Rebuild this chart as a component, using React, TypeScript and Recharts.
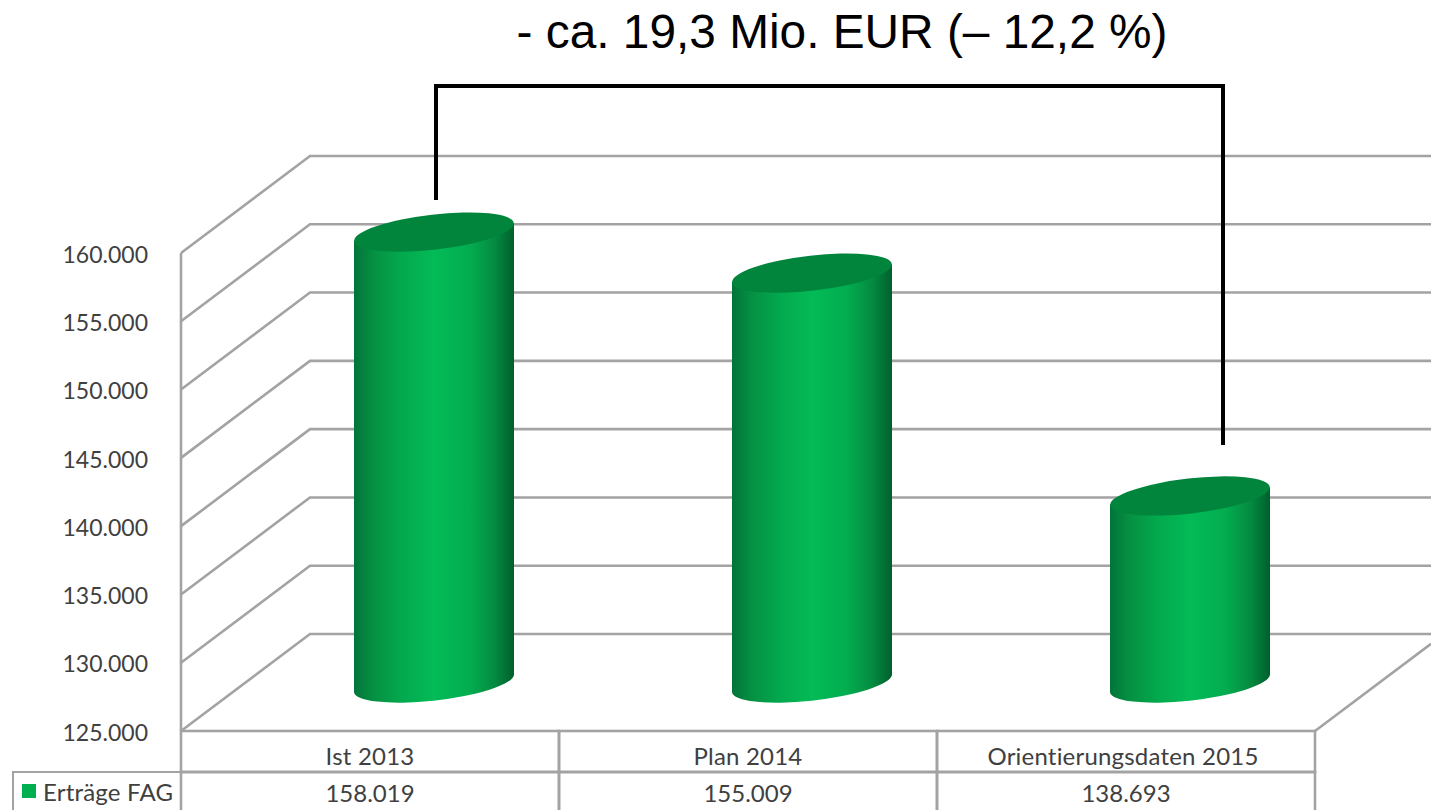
import React from "react";
import { ComposedChart, Bar, XAxis, YAxis, CartesianGrid, Legend, Customized } from "recharts";

const categories = ["Ist 2013", "Plan 2014", "Orientierungsdaten 2015"];
const ertraege = [158019, 155009, 138693];
const yTicks = [125000, 130000, 135000, 140000, 145000, 150000, 155000, 160000];
const seriesName = "Erträge FAG";
const title = "- ca. 19,3 Mio. EUR (– 12,2 %)";

const rows = categories.map((category, i) => ({ category, value: ertraege[i] }));

const W = 1431;
const H = 810;
const GRID = "#a3a3a3";
const TEXT = "#404040";
const FONT = "Lato, Carlito, sans-serif";
const DX = 129; // depth of the 3D wall
const DY = 97;
const BAR_DX = 64; // cylinders stand mid-depth on the floor
const BAR_DY = 48;
const RX = 80.3;
const RY = 17.5;
const ROT = -6.5;
const TILT = 8.6;

const fmt = (v: number) => {
  const s = String(v);
  return s.slice(0, -3) + "." + s.slice(-3);
};

const WallLine = (props: any) => {
  const { x1, y1, x2, index } = props;
  const bx = x1 + DX;
  const by = y1 - DY;
  return (
    <g key={index}>
      <polyline points={`${x1},${y1} ${bx},${by} ${W},${by}`} fill="none" stroke={GRID} strokeWidth={2.6} />
      {y1 > 700 ? (
        <line x1={x2} y1={y1} x2={W} y2={y1 - ((W - x2) * DY) / DX} stroke={GRID} strokeWidth={2.6} />
      ) : null}
    </g>
  );
};

const Cylinder = (props: any) => {
  const { x, y, width, height, index } = props;
  const left = x + BAR_DX;
  const right = left + width;
  const cx = left + width / 2;
  const ct = y - BAR_DY;
  const cb = y + height - BAR_DY;
  const id = `cyl-${index}`;
  return (
    <g>
      <defs>
        <linearGradient id={id} x1="0" y1="0" x2="1" y2="0">
          <stop offset="0" stopColor="#02743a" />
          <stop offset="0.12" stopColor="#059042" />
          <stop offset="0.3" stopColor="#03a94e" />
          <stop offset="0.5" stopColor="#03bb57" />
          <stop offset="0.72" stopColor="#03ad50" />
          <stop offset="0.88" stopColor="#048a40" />
          <stop offset="1" stopColor="#005f2c" />
        </linearGradient>
      </defs>
      <path
        d={`M${left},${ct + TILT} L${left},${cb + TILT} A${RX},${RY} ${ROT} 0 0 ${right},${cb - TILT} L${right},${ct - TILT} Z`}
        fill={`url(#${id})`}
      />
      <ellipse
        cx={cx}
        cy={ct}
        rx={RX}
        ry={RY}
        transform={`rotate(${ROT} ${cx} ${ct})`}
        fill="#01853d"
      />
    </g>
  );
};

const TableTick = (props: any) => {
  const { x, payload, index } = props;
  const half = 189;
  const top = 731;
  const mid = 772;
  return (
    <g>
      <rect x={x - half} y={top} width={half * 2} height={mid - top} fill="none" stroke={GRID} strokeWidth={2.6} />
      <rect x={x - half} y={mid} width={half * 2} height={H - mid + 4} fill="none" stroke={GRID} strokeWidth={2.6} />
      <text x={x - (index === 2 ? 3 : 0)} y={765} textAnchor="middle" fontFamily={FONT} fontSize={24} letterSpacing={0.2} fill={TEXT}>
        {payload.value}
      </text>
      <text x={x} y={802} textAnchor="middle" fontFamily={FONT} fontSize={24} fill={TEXT}>
        {fmt(ertraege[index])}
      </text>
    </g>
  );
};

const LegendCell = () => (
  <div
    style={{
      boxSizing: "border-box",
      width: 169,
      height: 42,
      border: `2.6px solid ${GRID}`,
      borderRight: "none",
      borderBottom: "none",
      display: "flex",
      alignItems: "center",
      paddingLeft: 8,
      paddingBottom: 4,
      fontFamily: FONT,
      fontSize: 24,
      letterSpacing: 0.2,
      color: TEXT,
      whiteSpace: "nowrap",
    }}
  >
    <span style={{ width: 14, height: 14, background: "#00b050", marginRight: 7, display: "inline-block" }} />
    {seriesName}
  </div>
);

const Annotation = () => (
  <g>
    <text x={842} y={48} textAnchor="middle" fontFamily="'Liberation Sans', Arial, sans-serif" fontSize={47.8} fill="#000">
      {title}
    </text>
    <polyline points="436,200 436,86 1223,86 1223,445" fill="none" stroke="#000" strokeWidth={4} />
  </g>
);

export default function App() {
  return (
    <div style={{ position: "absolute", left: 0, top: 0, width: W, height: H, background: "#fff", overflow: "hidden" }}>
      <ComposedChart
        width={W}
        height={H}
        data={rows}
        margin={{ top: 253, right: 116, bottom: 0, left: 0 }}
        barSize={160}
      >
        <CartesianGrid vertical={false} horizontal={WallLine as any} />
        <XAxis
          dataKey="category"
          height={79}
          interval={0}
          axisLine={false}
          tickLine={false}
          tick={TableTick as any}
        />
        <YAxis
          width={181}
          domain={[125000, 160000]}
          ticks={yTicks}
          tickFormatter={fmt}
          tickLine={false}
          tickMargin={27}
          axisLine={{ stroke: GRID, strokeWidth: 2.6 }}
          tick={{ fontFamily: FONT, fontSize: 23, fill: TEXT, dy: 1.5 }}
        />
        <Legend
          layout="horizontal"
          verticalAlign="middle"
          content={LegendCell as any}
          wrapperStyle={{ position: "absolute", left: 12, top: 771, width: 169, height: 42, margin: 0 }}
        />
        <Bar dataKey="value" name={seriesName} shape={Cylinder as any} isAnimationActive={false} />
        <Customized component={Annotation as any} />
      </ComposedChart>
    </div>
  );
}
